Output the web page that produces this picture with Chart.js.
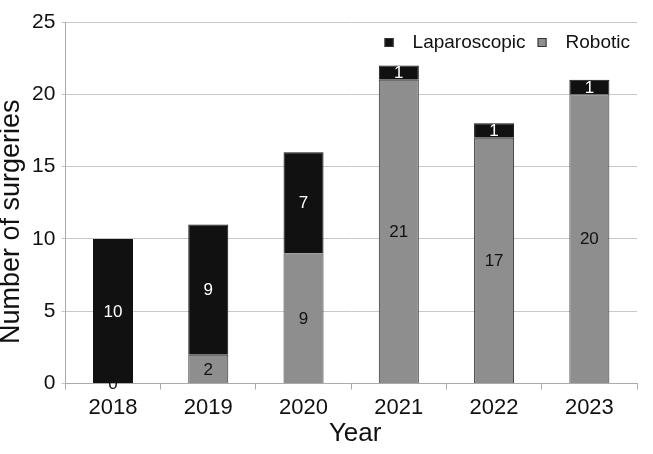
<!DOCTYPE html>
<html>
<head>
<meta charset="utf-8">
<script src="https://cdn.jsdelivr.net/npm/chart.js@4/dist/chart.umd.min.js"></script>
<style>
  body { margin: 0; background: #fff; }
  #caja { width: 653px; height: 454px; }
</style>
</head>
<body>
<div id="caja"><canvas id="grafico"></canvas></div>
<script>
const anios = ["2018", "2019", "2020", "2021", "2022", "2023"];
const roboticos = [0, 2, 9, 21, 17, 20];
const laparoscopicos = [10, 9, 7, 1, 1, 1];
const marcasY = [0, 5, 10, 15, 20, 25];
const tituloX = "Year";
const tituloY = "Number of surgeries";

const fuente = "'Liberation Sans', Arial, sans-serif";
const colorGris = "#8e8e8e";
const colorNegro = "#111111";

// etiquetas con el valor en el centro de cada segmento
const etiquetasPlugin = {
  id: "etiquetas",
  afterDatasetsDraw(chart) {
    const ctx = chart.ctx;
    ctx.save();
    ctx.font = "17px " + fuente;
    ctx.textAlign = "center";
    ctx.textBaseline = "middle";
    chart.data.datasets.forEach((ds, i) => {
      const meta = chart.getDatasetMeta(i);
      ctx.fillStyle = ds.colorEtiqueta;
      meta.data.forEach((barra, j) => {
        ctx.fillText(ds.data[j], barra.x, (barra.y + barra.base) / 2 + 1);
      });
    });
    ctx.restore();
  }
};

// leyenda dentro del area del grafico y titulos de ejes
const leyendaPlugin = {
  id: "leyenda",
  afterDraw(chart) {
    const ctx = chart.ctx;
    const area = chart.chartArea;
    ctx.save();
    ctx.font = "19px " + fuente;
    ctx.textBaseline = "middle";
    const items = chart.data.datasets.slice().reverse();
    let x = area.right - 7;
    const y = 43;
    for (let k = items.length - 1; k >= 0; k--) {
      const ds = items[k];
      const ancho = ctx.measureText(ds.label).width;
      x -= ancho;
      ctx.fillStyle = "#111";
      ctx.fillText(ds.label, x, y);
      x -= 19 + 9;
      ctx.fillStyle = ds.backgroundColor;
      ctx.fillRect(x, y - 5, 9, 9);
      ctx.strokeStyle = "#333";
      ctx.lineWidth = 1;
      ctx.strokeRect(x + 0.5, y - 4.5, 8, 8);
      x -= 12;
    }

    // titulos
    ctx.fillStyle = "#111";
    ctx.textAlign = "center";
    ctx.font = "26px " + fuente;
    ctx.fillText(tituloX, (area.left + area.right) / 2 + 4, 434);
    ctx.translate(12, (area.top + area.bottom) / 2 + 19);
    ctx.rotate(-Math.PI / 2);
    ctx.font = "27px " + fuente;
    ctx.fillText(tituloY, 0, 0);
    ctx.restore();
  }
};

new Chart(document.getElementById("grafico"), {
  type: "bar",
  data: {
    labels: anios,
    datasets: [
      {
        label: "Robotic",
        data: roboticos,
        backgroundColor: colorGris,
        borderColor: "#333",
        borderWidth: 1,
        colorEtiqueta: "#111",
        barPercentage: 0.42,
        categoryPercentage: 1
      },
      {
        label: "Laparoscopic",
        data: laparoscopicos,
        backgroundColor: colorNegro,
        borderColor: "#111",
        borderWidth: 1,
        colorEtiqueta: "#fff",
        barPercentage: 0.42,
        categoryPercentage: 1
      }
    ]
  },
  options: {
    responsive: true,
    maintainAspectRatio: false,
    animation: false,
    layout: { padding: { left: 26, right: 16, top: 22, bottom: 28 } },
    plugins: {
      legend: { display: false },
      tooltip: { enabled: false }
    },
    scales: {
      x: {
        stacked: true,
        grid: {
          offset: true,
          drawOnChartArea: false,
          color: "#aaa",
          tickLength: 6
        },
        border: { color: "#aaa" },
        ticks: { color: "#111", font: { size: 22, family: fuente }, padding: 5 }
      },
      y: {
        stacked: true,
        min: 0,
        max: 25,
        afterBuildTicks(scale) {
          scale.ticks = marcasY.map((v) => ({ value: v }));
        },
        grid: { color: "#c8c8c8", tickLength: 4 },
        border: { color: "#aaa" },
        ticks: { color: "#111", font: { size: 21, family: fuente }, padding: 6 }
      }
    }
  },
  plugins: [etiquetasPlugin, leyendaPlugin]
});
</script>
</body>
</html>
